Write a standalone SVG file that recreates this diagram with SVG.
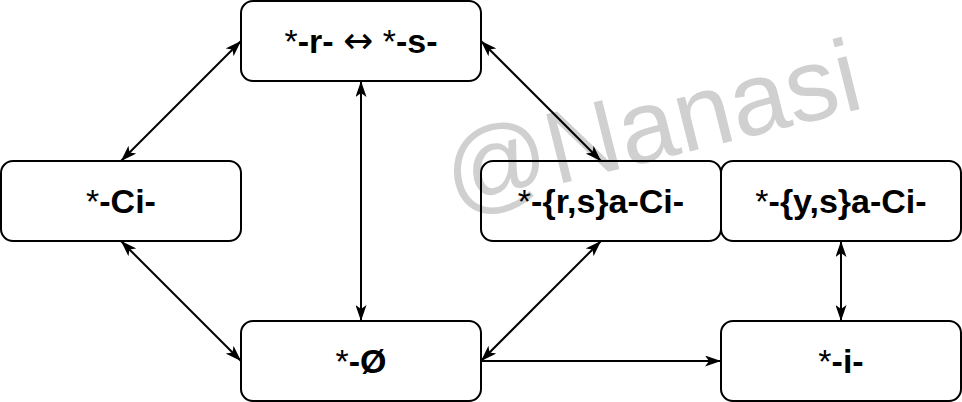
<svg xmlns="http://www.w3.org/2000/svg" width="962" height="402" viewBox="0 0 962 402">
<style>
.box{fill:none;stroke:#000;stroke-width:2}
.lbl{font-family:"Liberation Sans",Arial,sans-serif;font-size:34px;font-weight:bold;fill:#000;text-anchor:middle}
.n{font-weight:normal}
.arr{font-family:"DejaVu Sans",sans-serif;font-weight:normal;font-size:36px}
.edge{stroke:#000;stroke-width:2;fill:none}
.wm{font-family:"Liberation Sans",Arial,sans-serif;font-size:103px;fill:#d0d0d0;text-anchor:middle}
</style>
<defs>
<marker id="ah" viewBox="0 0 16 11" refX="16" refY="5.5" markerWidth="16" markerHeight="11" markerUnits="userSpaceOnUse" orient="auto-start-reverse">
<path d="M0,0 L16,5.5 L0,11 L4,5.5 Z" fill="#000"/>
</marker>
</defs>
<rect x="0" y="0" width="962" height="402" fill="#fff"/>
<text class="wm" transform="translate(651,123) rotate(-14)" y="37">@Nanasi</text>
<g id="connectors">
<line class="edge" x1="241" y1="41" x2="121" y2="161" marker-start="url(#ah)" marker-end="url(#ah)"/>
<line class="edge" x1="481" y1="41" x2="601" y2="161" marker-start="url(#ah)" marker-end="url(#ah)"/>
<line class="edge" x1="361" y1="81" x2="361" y2="321" marker-start="url(#ah)" marker-end="url(#ah)"/>
<line class="edge" x1="121" y1="241" x2="241" y2="361" marker-start="url(#ah)" marker-end="url(#ah)"/>
<line class="edge" x1="601" y1="241" x2="481" y2="361" marker-start="url(#ah)" marker-end="url(#ah)"/>
<line class="edge" x1="481" y1="361" x2="721" y2="361" marker-end="url(#ah)"/>
<line class="edge" x1="841" y1="241" x2="841" y2="321" marker-start="url(#ah)" marker-end="url(#ah)"/>
</g>
<g id="n-rs">
<rect class="box" x="241" y="1" width="240" height="80" rx="12"/>
<text class="lbl" x="361" y="53"><tspan class="n">*</tspan>-r- <tspan class="arr">↔</tspan> <tspan class="n">*</tspan>-s-</text>
</g>
<g id="n-ci">
<rect class="box" x="1" y="161" width="240" height="80" rx="12"/>
<text class="lbl" x="121" y="213"><tspan class="n">*</tspan>-Ci-</text>
</g>
<g id="n-rsaci">
<rect class="box" x="481" y="161" width="240" height="80" rx="12"/>
<text class="lbl" x="601" y="213"><tspan class="n">*</tspan>-{r,s}a-Ci-</text>
</g>
<g id="n-ysaci">
<rect class="box" x="721" y="161" width="240" height="80" rx="12"/>
<text class="lbl" x="841" y="213"><tspan class="n">*</tspan>-{y,s}a-Ci-</text>
</g>
<g id="n-zero">
<rect class="box" x="241" y="321" width="240" height="80" rx="12"/>
<text class="lbl" x="361" y="373"><tspan class="n">*</tspan>-Ø</text>
</g>
<g id="n-i">
<rect class="box" x="721" y="321" width="240" height="80" rx="12"/>
<text class="lbl" x="841" y="373"><tspan class="n">*</tspan>-i-</text>
</g>
</svg>
